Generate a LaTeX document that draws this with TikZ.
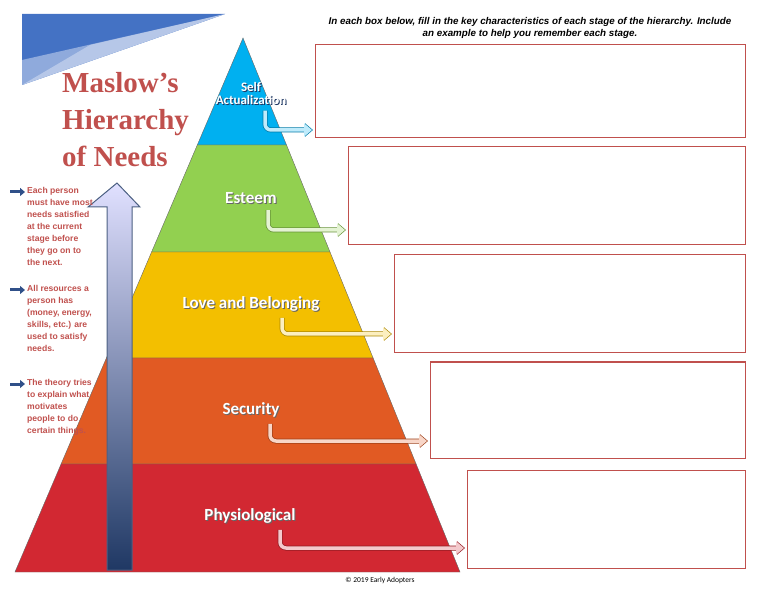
\documentclass[tikz,border=0pt]{standalone}
\usepackage{fontspec}
\setmainfont{Liberation Serif}
\setsansfont{Carlito}
\newfontfamily\notefont{Liberation Sans}
\usetikzlibrary{arrows.meta,shadings}
\definecolor{titlered}{RGB}{192,80,77}
\definecolor{lvlblue}{RGB}{0,176,240}
\definecolor{lvlgreen}{RGB}{146,208,80}
\definecolor{lvlyellow}{RGB}{243,191,0}
\definecolor{lvlorange}{RGB}{225,90,35}
\definecolor{lvlred}{RGB}{210,40,50}
\definecolor{boxred}{RGB}{192,80,77}
\definecolor{navy}{RGB}{31,56,100}
\definecolor{steel}{RGB}{68,114,196}
\begin{document}
\begin{tikzpicture}[x=1pt,y=-1pt]
    \tikzset{
        level/.style={draw=black!60, line width=0.4pt},
        lvltext/.style={font=\sffamily\bfseries\fontsize{17}{18}\selectfont, text=white, align=center},
        notebox/.style={draw=boxred, line width=1pt},
        note/.style={font=\notefont\bfseries\fontsize{8.6}{12}\selectfont, text=titlered, align=flush left, anchor=north west, text width=66pt, inner sep=1pt},
        bullet/.style={-{Triangle[length=5pt,width=8pt]}, steel!70!black, line width=3pt},
        stagearrow/.style={line width=5pt, rounded corners=6pt, -{Triangle[length=8pt,width=13pt]}}
    }
    \useasboundingbox (0,0) rectangle (768,593);
    % corner decoration
    \fill[steel] (22,14) -- (225,14) -- (22,85) -- cycle;
    \fill[steel!60!white] (22,60) -- (225,14) -- (22,85) -- cycle;
    \fill[white, opacity=0.35] (90,45) -- (225,14) -- (22,85) -- cycle;
    % pyramid levels
    \filldraw[level, fill=lvlblue]   (243,38) -- (286.5,145) -- (197.3,145) -- cycle;
    \filldraw[level, fill=lvlgreen]  (197.3,145) -- (286.5,145) -- (330,252) -- (151.6,252) -- cycle;
    \filldraw[level, fill=lvlyellow] (151.6,252) -- (330,252) -- (373.1,358) -- (106.4,358) -- cycle;
    \filldraw[level, fill=lvlorange] (106.4,358) -- (373.1,358) -- (416.1,464) -- (61.1,464) -- cycle;
    \filldraw[level, fill=lvlred]    (61.1,464) -- (416.1,464) -- (460,572) -- (15,572) -- cycle;
    % level names (with shadow)
    \node[lvltext, text=navy, font=\sffamily\bfseries\fontsize{13}{13}\selectfont] at (252,94) {Self\\Actualization};
    \node[lvltext, font=\sffamily\bfseries\fontsize{13}{13}\selectfont] (self) at (251,93) {Self\\Actualization};
    \foreach \name/\xp/\yp/\txt in {esteem/251/198/Esteem, love/251/304/Love and Belonging, security/251/410/Security, phys/250/516/Physiological} {
        \node[lvltext, text=black!60] at (\xp+1,\yp+1) {\txt};
        \node[lvltext] (\name) at (\xp,\yp) {\txt};
    }
    % answer boxes
    \draw[notebox] (315,45) rectangle (745,138);
    \draw[notebox] (348,147) rectangle (745,245);
    \draw[notebox] (394,255) rectangle (745,353);
    \draw[notebox] (430,362) rectangle (745,458);
    \draw[notebox] (467,470) rectangle (745,568);
    \coordinate (box1) at (313,130);
    \coordinate (box2) at (346,230);
    \coordinate (box3) at (392,334);
    \coordinate (box4) at (428,441);
    \coordinate (box5) at (465,548);
    % stage arrows
    \foreach \lbl/\bx/\c/\dx in {self/box1/lvlblue/14, esteem/box2/lvlgreen/17, love/box3/lvlyellow/31, security/box4/lvlorange/19, phys/box5/lvlred/30} {
        \draw[stagearrow, draw=\c!70!black] ([xshift=\dx pt, yshift=-3pt]\lbl.south) |- (\bx);
        \draw[stagearrow, line width=3.5pt, draw=\c!25!white] ([xshift=\dx pt, yshift=-3pt]\lbl.south) |- ([xshift=-1pt]\bx);
    }
    % big rising arrow
    \shade[top color=blue!12!white, bottom color=navy, draw=navy!80, line width=1pt]
        (107,570) -- (107,207) -- (88,207) -- (117,183) -- (140,207) -- (132,207) -- (132,570) -- cycle;
    % title
    \node[font=\bfseries\fontsize{29}{37}\selectfont, text=titlered, align=left, anchor=north west, inner sep=0pt] (title) at (62,72) {Maslow’s\\Hierarchy\\of Needs};
    % notes
    \node[note] (n1) at (26,186) {Each person must have most needs satisfied at the current stage before they go on to the next.};
    \node[note] (n2) at (26,284) {All resources a person has (money, energy, skills, etc.) are used to satisfy needs.};
    \node[note] (n3) at (26,378) {The theory tries to explain what motivates people to do certain things.};
    \foreach \n in {n1,n2,n3}
        \draw[bullet] ([xshift=-16pt,yshift=-6pt]\n.north west) -- ([xshift=-1pt,yshift=-6pt]\n.north west);
    % heading and footer
    \node[font=\notefont\bfseries\itshape\fontsize{9.8}{12}\selectfont, align=center] (head) at (530,28)
        {In each box below, fill in the key characteristics of each stage of the hierarchy. Include\\an example to help you remember each stage.};
    \node[font=\sffamily\fontsize{7.5}{8}\selectfont] (foot) at (380,580) {© 2019 Early Adopters};
\end{tikzpicture}
\end{document}
